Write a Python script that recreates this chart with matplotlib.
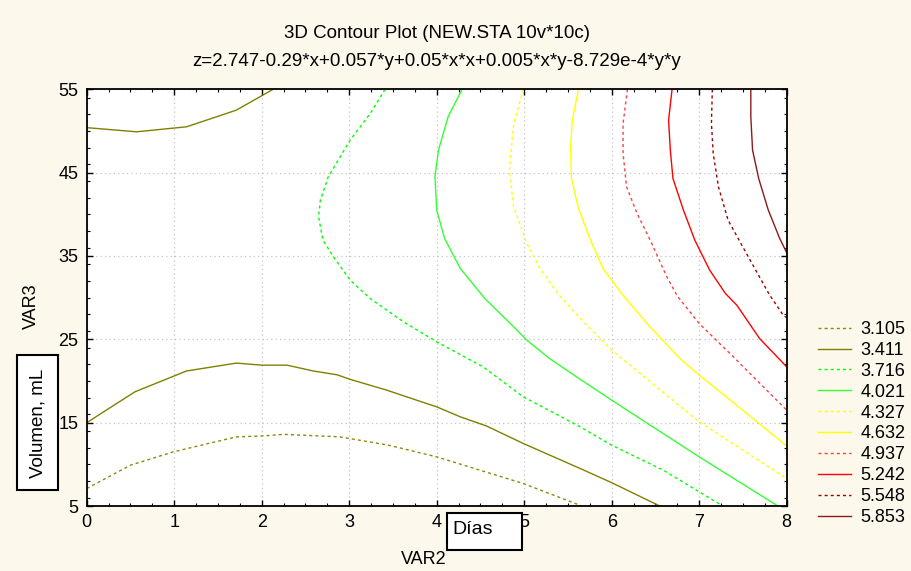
import matplotlib
matplotlib.use("Agg")
import matplotlib.pyplot as plt
from matplotlib.patches import Rectangle
from matplotlib.ticker import MultipleLocator, FixedLocator

plt.rcParams['font.family'] = ['Liberation Sans', 'DejaVu Sans']

# ---- data: contour levels and traced iso-lines (x = VAR2, y = VAR3) ----
levels = ["3.105", "3.411", "3.716", "4.021", "4.327", "4.632", "4.937", "5.242", "5.548", "5.853"]

c3105_x = [0.0, 0.50, 0.99, 1.71, 2.0, 2.25, 2.89, 3.45, 4.0, 4.99, 5.66]
c3105_y = [7.1, 9.9, 11.5, 13.3, 13.4, 13.6, 13.3, 12.3, 10.9, 7.7, 5.0]

c3411a_x = [0.0, 0.57, 1.14, 1.71, 2.13]
c3411a_y = [50.4, 49.9, 50.5, 52.5, 55.0]
c3411b_x = [0.0, 0.55, 1.14, 1.71, 2.0, 2.29, 2.59, 2.86, 3.01, 3.43, 3.77, 4.0, 4.27, 4.57, 4.99, 5.64, 6.0, 6.55]
c3411b_y = [15.0, 18.7, 21.2, 22.15, 21.9, 21.9, 21.2, 20.75, 20.2, 18.9, 17.7, 16.9, 15.7, 14.6, 12.5, 9.5, 7.8, 5.0]

c3716_x = [3.41, 3.24, 3.01, 2.76, 2.67, 2.65, 2.70, 2.82, 3.01, 3.24, 3.62, 4.0, 4.53, 4.99, 5.64, 6.0, 6.59, 7.27]
c3716_y = [55.0, 52.1, 48.9, 44.5, 41.7, 39.7, 36.9, 34.9, 32.1, 29.9, 27.1, 24.7, 21.7, 18.1, 14.5, 12.3, 9.3, 5.0]

c4021_x = [4.29, 4.13, 4.02, 3.98, 4.0, 4.09, 4.27, 4.55, 4.88, 5.03, 5.29, 5.64, 6.0, 7.0, 7.90]
c4021_y = [55.0, 51.7, 47.7, 44.5, 40.5, 37.1, 33.5, 29.9, 26.5, 24.9, 22.7, 20.2, 17.7, 10.9, 5.0]

c4327_x = [4.99, 4.88, 4.83, 4.88, 5.03, 5.18, 5.40, 5.66, 6.0, 7.0, 8.0]
c4327_y = [55.0, 50.9, 45.3, 40.9, 36.5, 33.5, 30.3, 27.3, 23.7, 15.1, 8.3]

c4632_x = [5.62, 5.55, 5.53, 5.54, 5.62, 5.75, 5.90, 6.0, 6.12, 6.42, 6.78, 7.0, 7.24, 8.0]
c4632_y = [55.0, 51.3, 48.1, 44.3, 40.7, 37.1, 33.5, 32.1, 30.4, 26.7, 22.7, 20.7, 18.7, 12.2]

c4937_x = [6.18, 6.13, 6.13, 6.17, 6.29, 6.44, 6.63, 6.75, 7.0, 7.39, 8.0]
c4937_y = [55.0, 50.9, 47.3, 43.3, 40.1, 36.9, 32.5, 30.2, 26.9, 22.9, 16.5]

c5242_x = [6.69, 6.65, 6.67, 6.70, 6.82, 6.95, 7.12, 7.30, 7.43, 7.69, 8.0]
c5242_y = [55.0, 51.3, 47.7, 44.3, 40.5, 36.9, 33.3, 30.5, 29.1, 25.1, 21.7]

c5548_x = [7.15, 7.14, 7.16, 7.22, 7.33, 7.54, 7.80, 7.96, 8.0]
c5548_y = [55.0, 50.9, 47.3, 43.3, 39.3, 35.3, 30.4, 27.9, 27.6]

c5853_x = [7.59, 7.59, 7.61, 7.68, 7.79, 7.92, 8.0]
c5853_y = [55.0, 51.7, 47.7, 44.3, 40.5, 37.1, 35.4]

x_ticks = [0, 1, 2, 3, 4, 5, 6, 7, 8]
y_ticks = [5, 15, 25, 35, 45, 55]

# ---- styles ----
dash = (0, (2.2, 2.2))
styles = [
    ("#8a8a10", dash), ("#808000", "-"),
    ("#00ff00", dash), ("#33ff33", "-"),
    ("#ffff00", dash), ("#ffff00", "-"),
    ("#ff4040", dash), ("#ff0000", "-"),
    ("#a00000", dash), ("#8b1a1a", "-"),
]

curves = [
    [(c3105_x, c3105_y)],
    [(c3411a_x, c3411a_y), (c3411b_x, c3411b_y)],
    [(c3716_x, c3716_y)],
    [(c4021_x, c4021_y)],
    [(c4327_x, c4327_y)],
    [(c4632_x, c4632_y)],
    [(c4937_x, c4937_y)],
    [(c5242_x, c5242_y)],
    [(c5548_x, c5548_y)],
    [(c5853_x, c5853_y)],
]

bg = "#fdf8ec"
fig = plt.figure(figsize=(9.12, 5.71), dpi=100, facecolor=bg)
ax = fig.add_axes([0.0951, 0.1138, 0.7675, 0.7298])
ax.set_facecolor("white")

handles = []
for (col, ls), segs, lab in zip(styles, curves, levels):
    h = None
    for xs, ys in segs:
        h, = ax.plot(xs, ys, color=col, linestyle=ls, linewidth=1.0)
    h.set_label(lab)
    handles.append(h)

ax.set_xlim(0, 8)
ax.set_ylim(5, 55)
ax.xaxis.set_major_locator(FixedLocator(x_ticks))
ax.yaxis.set_major_locator(FixedLocator(y_ticks))
ax.xaxis.set_minor_locator(MultipleLocator(0.25))
ax.yaxis.set_minor_locator(MultipleLocator(2))
ax.tick_params(which="both", direction="in", top=True, right=True, labelsize=13, colors="black")
ax.tick_params(which="major", length=4, width=1)
ax.tick_params(which="minor", length=2.5, width=0.8)
ax.tick_params(axis="x", pad=6)
ax.tick_params(axis="y", pad=6)
ax.grid(True, which="major", linestyle=(0, (1, 2.5)), color="#c4c4c4", linewidth=0.9)
for s in ax.spines.values():
    s.set_linewidth(1.3)

# titles
fig.text(0.4788, 1 - 33 / 571, "3D Contour Plot (NEW.STA 10v*10c)", ha="center", va="center", fontsize=13.5)
fig.text(0.4788, 1 - 61 / 571, "z=2.747-0.29*x+0.057*y+0.05*x*x+0.005*x*y-8.729e-4*y*y",
         ha="center", va="center", fontsize=13.5)

# axis labels
fig.text(424 / 912, 1 - 560 / 571, "VAR2", ha="center", va="center", fontsize=13)
fig.text(31 / 912, 1 - 306 / 571, "VAR3", ha="center", va="center", fontsize=13, rotation=90)

# annotation boxes
fig.patches.append(Rectangle((17 / 912, 1 - 490 / 571), 41 / 912, 135 / 571, transform=fig.transFigure,
                             facecolor="white", edgecolor="black", linewidth=1.5, zorder=5))
fig.text(38 / 912, 1 - 423 / 571, "Volumen, mL", ha="center", va="center", fontsize=13.5, rotation=90, zorder=6)
fig.patches.append(Rectangle((447 / 912, 1 - 550 / 571), 75 / 912, 37 / 571, transform=fig.transFigure,
                             facecolor="white", edgecolor="black", linewidth=1.5, zorder=5))
fig.text(452 / 912, 1 - 529 / 571, "Días", ha="left", va="center", fontsize=14, zorder=6)

# legend
fig.legend(handles=handles, loc="upper left", bbox_to_anchor=(818 / 912, 1 - 321 / 571),
           frameon=False, fontsize=13, handlelength=1.85, handletextpad=0.5,
           labelspacing=0.215, borderpad=0, borderaxespad=0)

fig.savefig("out.png", dpi=100, facecolor=bg)
